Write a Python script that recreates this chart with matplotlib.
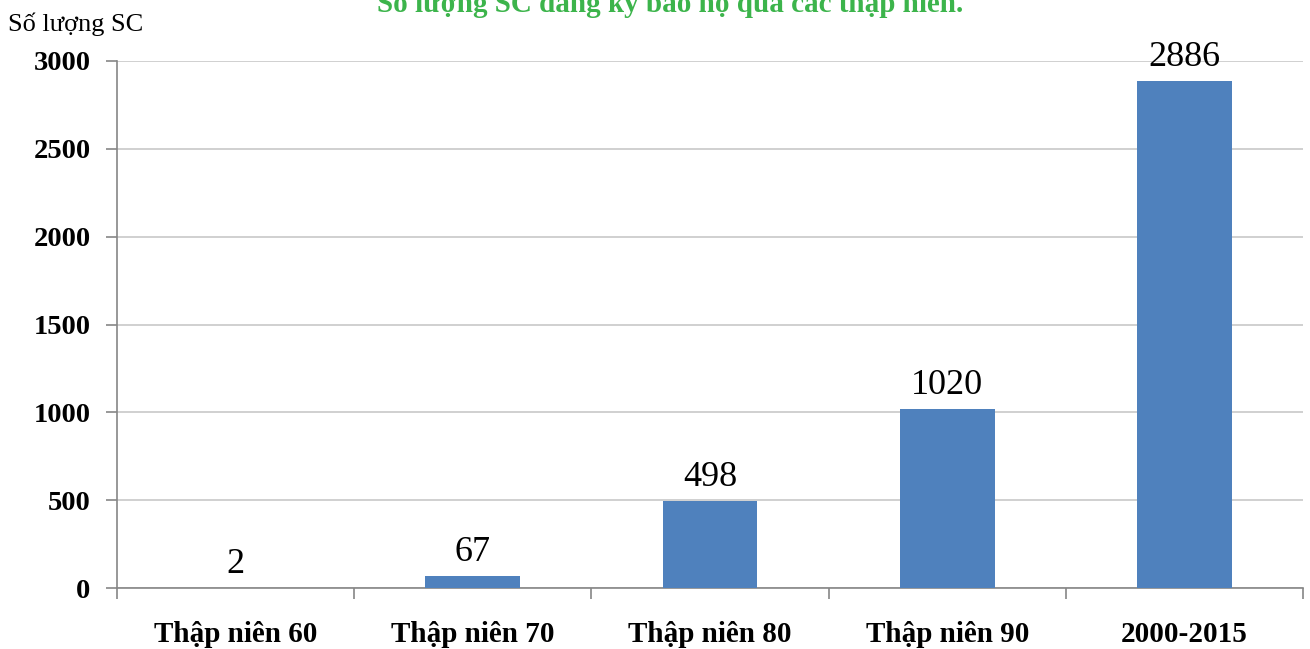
import matplotlib
matplotlib.use("Agg")
import matplotlib.pyplot as plt
import numpy as np

categories = ["Thập niên 60", "Thập niên 70", "Thập niên 80", "Thập niên 90", "2000-2015"]
counts = [2, 67, 498, 1020, 2886]
y_ticks = [0, 500, 1000, 1500, 2000, 2500, 3000]

plt.rcParams["font.family"] = ["Liberation Serif", "DejaVu Serif"]

fig = plt.figure(figsize=(13.1, 6.49), dpi=100)
ax = fig.add_axes([117 / 1310, 61 / 649, (1303 - 117) / 1310, (588 - 61) / 649])

x = np.arange(len(categories))
ax.bar(x, counts, width=0.4, color="#4f81bd", zorder=3)

for xi, v in zip(x, counts):
    ax.annotate(str(v), (xi, v), xytext=(0, 5), textcoords="offset points",
                ha="center", va="bottom", fontsize=26, color="black")

ax.set_xlim(-0.5, len(categories) - 0.5)
ax.set_ylim(0, 3000)
ax.set_yticks(y_ticks)
ax.set_yticklabels([str(t) for t in y_ticks], fontsize=20.5, fontweight="bold")
ax.set_xticks(x)
ax.set_xticklabels(categories, fontsize=21, fontweight="bold")
ax.tick_params(axis="x", length=0, pad=24)
ax.set_xticks(np.arange(-0.5, len(categories), 1), minor=True)
ax.tick_params(axis="x", which="minor", length=8, color="#868686", width=1.2)
ax.tick_params(axis="y", length=8, color="#868686", width=1.2, pad=11)

ax.grid(axis="y", color="#c8c8c8", linewidth=1.2, zorder=0)
for s in ["top", "right"]:
    ax.spines[s].set_visible(False)
for s in ["left", "bottom"]:
    ax.spines[s].set_color("#868686")
    ax.spines[s].set_linewidth(1.2)

fig.text(8 / 1310, 1 - 24 / 649, "Số lượng SC", fontsize=19, ha="left", va="center")
fig.text(670 / 1310, 1 - 12 / 649, "Số lượng SC đăng ký bảo hộ qua các thập niên.",
         fontsize=21, fontweight="bold", color="#3cb44b", ha="center", va="baseline")

fig.savefig("out.png", dpi=100)
